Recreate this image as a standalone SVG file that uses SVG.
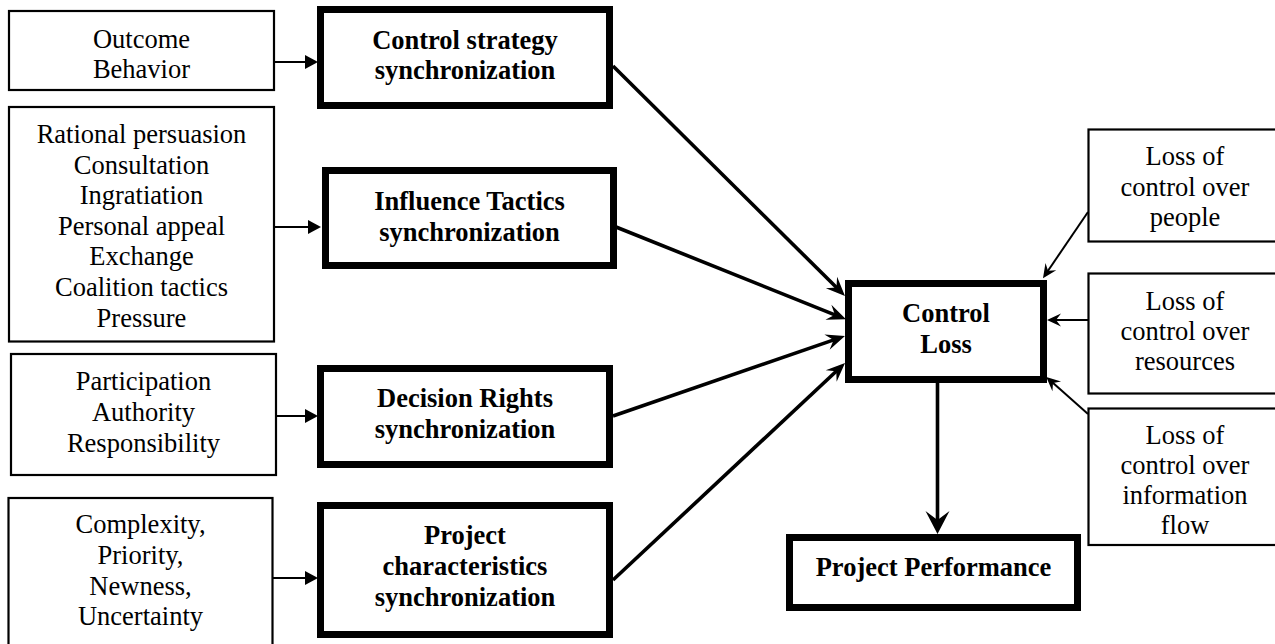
<svg xmlns="http://www.w3.org/2000/svg" width="1275" height="644" viewBox="0 0 1275 644">
<style>
.thin{fill:#fff;stroke:#000;stroke-width:2.2}
.thick{fill:#fff;stroke:#000;stroke-width:7}
.t{font-family:"Liberation Serif","Times New Roman",serif;font-size:26.5px;fill:#000;text-anchor:middle}
.b{font-weight:bold}
.c1{stroke:#000;stroke-width:2;fill:none}
.c2{stroke:#000;stroke-width:3.6;fill:none}
</style>
<defs>
<marker id="tri" markerUnits="userSpaceOnUse" markerWidth="20" markerHeight="20" refX="-3" refY="0" orient="auto" overflow="visible">
<path d="M0,0 L-13,-7 L-13,7 Z" fill="#000"/>
</marker>
<marker id="barb" markerUnits="userSpaceOnUse" markerWidth="30" markerHeight="30" refX="-8" refY="0" orient="auto" overflow="visible">
<path d="M0,0 L-19,-8 L-12,0 L-19,8 Z" fill="#000"/>
</marker>
<marker id="barbL" markerUnits="userSpaceOnUse" markerWidth="30" markerHeight="30" refX="-10" refY="0" orient="auto" overflow="visible">
<path d="M0,0 L-23,-12 L-14,0 L-23,12 Z" fill="#000"/>
</marker>
<marker id="barbS" markerUnits="userSpaceOnUse" markerWidth="20" markerHeight="20" refX="-5" refY="0" orient="auto" overflow="visible">
<path d="M0,0 L-14,-6.5 L-9,0 L-14,6.5 Z" fill="#000"/>
</marker>
</defs>

<g id="connectors">
<line class="c1" x1="274" y1="62" x2="315" y2="62" marker-end="url(#tri)"/>
<line class="c1" x1="274" y1="227" x2="318" y2="227" marker-end="url(#tri)"/>
<line class="c1" x1="274" y1="416" x2="315" y2="416" marker-end="url(#tri)"/>
<line class="c1" x1="273" y1="578" x2="315" y2="578" marker-end="url(#tri)"/>
<line class="c2" x1="613" y1="66" x2="839.3" y2="290.3" marker-end="url(#barb)"/>
<line class="c2" x1="616" y1="227" x2="838.6" y2="316.3" marker-end="url(#barb)"/>
<line class="c2" x1="613" y1="416" x2="837.4" y2="338.6" marker-end="url(#barb)"/>
<line class="c2" x1="613" y1="580" x2="839.2" y2="368.5" marker-end="url(#barb)"/>
<line class="c2" x1="937.5" y1="383" x2="937.5" y2="524" marker-end="url(#barbL)"/>
<line class="c1" x1="1088" y1="212" x2="1045.8" y2="274" marker-end="url(#barbS)"/>
<line class="c1" x1="1088" y1="320" x2="1052" y2="320" marker-end="url(#barbS)"/>
<line class="c1" x1="1088" y1="414" x2="1050" y2="380.3" marker-end="url(#barbS)"/>
</g>

<g id="outcome">
<rect class="thin" x="9" y="11" width="265" height="79"/>
<text class="t" x="141.5" y="48">Outcome</text>
<text class="t" x="141.5" y="78">Behavior</text>
</g>
<g id="tactics-list">
<rect class="thin" x="9" y="107" width="265" height="234.5"/>
<text class="t" x="141.5" y="143.3">Rational persuasion</text>
<text class="t" x="141.5" y="174">Consultation</text>
<text class="t" x="141.5" y="204.3">Ingratiation</text>
<text class="t" x="141.5" y="234.8">Personal appeal</text>
<text class="t" x="141.5" y="265.4">Exchange</text>
<text class="t" x="141.5" y="296">Coalition tactics</text>
<text class="t" x="141.5" y="326.6">Pressure</text>
</g>
<g id="rights-list">
<rect class="thin" x="11" y="354" width="265" height="121"/>
<text class="t" x="143.5" y="390">Participation</text>
<text class="t" x="143.5" y="421">Authority</text>
<text class="t" x="143.5" y="451.5">Responsibility</text>
</g>
<g id="characteristics-list">
<rect class="thin" x="8.5" y="498" width="264" height="160"/>
<text class="t" x="140.5" y="533">Complexity,</text>
<text class="t" x="140.5" y="563.5">Priority,</text>
<text class="t" x="140.5" y="594.5">Newness,</text>
<text class="t" x="140.5" y="625">Uncertainty</text>
</g>

<g id="control-strategy">
<rect class="thick" x="320.5" y="9.5" width="289" height="96"/>
<text class="t b" x="465" y="48.5">Control strategy</text>
<text class="t b" x="465" y="79">synchronization</text>
</g>
<g id="influence-tactics">
<rect class="thick" x="325.5" y="170.5" width="288" height="95"/>
<text class="t b" x="469.5" y="209.5">Influence Tactics</text>
<text class="t b" x="469.5" y="240.5">synchronization</text>
</g>
<g id="decision-rights">
<rect class="thick" x="320.5" y="368.5" width="289" height="96"/>
<text class="t b" x="465" y="407">Decision Rights</text>
<text class="t b" x="465" y="438">synchronization</text>
</g>
<g id="project-characteristics">
<rect class="thick" x="320.5" y="505.5" width="289" height="129"/>
<text class="t b" x="465" y="544">Project</text>
<text class="t b" x="465" y="575">characteristics</text>
<text class="t b" x="465" y="605.5">synchronization</text>
</g>

<g id="control-loss">
<rect class="thick" x="848.5" y="283.5" width="195" height="96"/>
<text class="t b" x="946" y="322">Control</text>
<text class="t b" x="946" y="353">Loss</text>
</g>
<g id="project-performance">
<rect class="thick" x="789.5" y="537.5" width="288" height="70"/>
<text class="t b" x="933.5" y="576">Project Performance</text>
</g>

<g id="loss-people">
<rect class="thin" x="1088.5" y="129.5" width="190" height="112"/>
<text class="t" x="1185" y="165">Loss of</text>
<text class="t" x="1185" y="195.5">control over</text>
<text class="t" x="1185" y="226">people</text>
</g>
<g id="loss-resources">
<rect class="thin" x="1088.5" y="273.5" width="190" height="120"/>
<text class="t" x="1185" y="309.5">Loss of</text>
<text class="t" x="1185" y="340">control over</text>
<text class="t" x="1185" y="370">resources</text>
</g>
<g id="loss-information">
<rect class="thin" x="1088.5" y="408.5" width="190" height="136.5"/>
<text class="t" x="1185" y="443.5">Loss of</text>
<text class="t" x="1185" y="473.5">control over</text>
<text class="t" x="1185" y="504">information</text>
<text class="t" x="1185" y="534">flow</text>
</g>
</svg>
